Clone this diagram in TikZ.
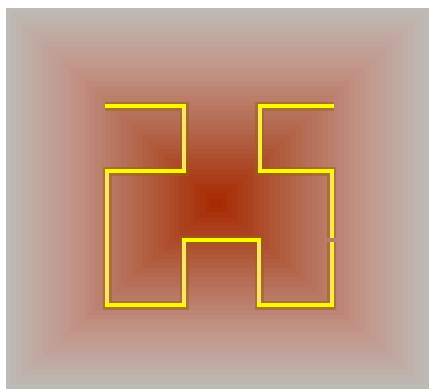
\documentclass[tikz,border=0pt]{standalone}
\definecolor{bgGray}{RGB}{190,186,181}
\definecolor{bgPink}{RGB}{194,148,136}
\definecolor{bgBrown}{RGB}{180,104,78}
\definecolor{bgRed}{RGB}{166,42,2}
\definecolor{lnYellow}{RGB}{255,250,0}
\definecolor{lnCream}{RGB}{255,226,110}
\definecolor{lnShadow}{RGB}{150,105,0}
\definecolor{tickCol}{RGB}{178,128,108}
\tikzset{
  shadowline/.style={line width=9pt, lnShadow, opacity=0.5, line join=miter},
  mainline/.style={line width=4pt, lnYellow, line join=miter},
  vertline/.style={line width=3.6pt, lnCream},
}
\newcommand\bgband[2]{%
  \pgfmathsetmacro\t{1-#1/40}%
  \fill[#2] ({216-\t*210},{203-\t*195}) rectangle ({216+\t*213},{203+\t*186});}
\begin{document}
\begin{tikzpicture}[x=1pt,y=-1pt]
\useasboundingbox (0,0) rectangle (429,389);
\fill[white] (0,0) rectangle (429,389);
\foreach \i in {0,...,11} {
  \pgfmathtruncatemacro\p{100*\i/12}
  \bgband{\i}{bgPink!\p!bgGray}
}
\foreach \i in {12,...,23} {
  \pgfmathtruncatemacro\p{100*(\i-12)/12}
  \bgband{\i}{bgBrown!\p!bgPink}
}
\foreach \i in {24,...,39} {
  \pgfmathtruncatemacro\p{100*(\i-24)/15}
  \bgband{\i}{bgRed!\p!bgBrown}
}
% coordinates of the outline
\coordinate (a1) at (105,106);
\coordinate (a2) at (184,106);
\coordinate (a3) at (184,171);
\coordinate (a4) at (107,171);
\coordinate (a5) at (107,305);
\coordinate (a6) at (184,305);
\coordinate (a7) at (184,240);
\coordinate (a8) at (259,240);
\coordinate (a9) at (259,305);
\coordinate (a10) at (331.5,305);
\coordinate (a11) at (331.5,241.5);
\coordinate (b1) at (331.5,237.5);
\coordinate (b2) at (331.5,171);
\coordinate (b3) at (259.5,171);
\coordinate (b4) at (259.5,106);
\coordinate (b5) at (334,106);
% shadow halo
\draw[shadowline] (a1)--(a2)--(a3)--(a4)--(a5)--(a6)--(a7)--(a8)--(a9)--(a10)--(a11);
\draw[shadowline] (b1)--(b2)--(b3)--(b4)--(b5);
% main yellow line
\draw[mainline] (a1)--(a2)--(a3)--(a4)--(a5)--(a6)--(a7)--(a8)--(a9)--(a10)--(a11);
\draw[mainline] (b1)--(b2)--(b3)--(b4)--(b5);
% lighter vertical strokes
\draw[vertline] (184,108)--(184,169);
\draw[vertline] (107,173)--(107,303);
\draw[vertline] (184,303)--(184,242);
\draw[vertline] (259,242)--(259,303);
\draw[vertline] (331.5,303)--(331.5,241.5);
\draw[vertline] (331.5,237.5)--(331.5,173);
\draw[vertline] (259.5,169)--(259.5,108);
% small tick at the gap
\draw[tickCol, line width=1.5pt] (329.5,239.5)--(337,239.5);
\end{tikzpicture}
\end{document}
